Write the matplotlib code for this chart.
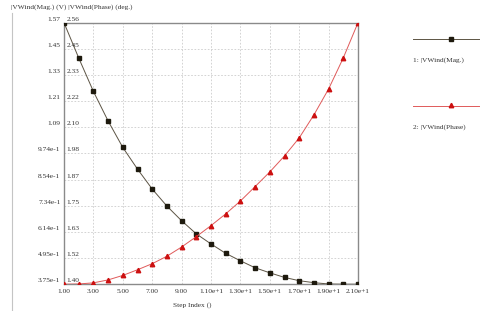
import matplotlib
matplotlib.use("Agg")
import matplotlib.pyplot as plt
from matplotlib.lines import Line2D
from matplotlib import transforms
import numpy as np

step = list(range(1, 22))
mag = [1.570, 1.409, 1.256, 1.121, 1.000, 0.901, 0.810, 0.732, 0.665, 0.605,
       0.559, 0.516, 0.482, 0.450, 0.427, 0.406, 0.391, 0.382, 0.376, 0.375, 0.375]
phase = [1.400, 1.401, 1.406, 1.419, 1.439, 1.464, 1.491, 1.524, 1.565, 1.611,
         1.660, 1.712, 1.769, 1.833, 1.898, 1.969, 2.049, 2.151, 2.266, 2.404, 2.560]

xticks = [1, 3, 5, 7, 9, 11, 13, 15, 17, 19, 21]
xticklabels = ["1.00", "3.00", "5.00", "7.00", "9.00", "1.10e+1", "1.30e+1",
               "1.50e+1", "1.70e+1", "1.90e+1", "2.10e+1"]
mag_ticklabels = ["3.75e-1", "4.95e-1", "6.14e-1", "7.34e-1", "8.54e-1", "9.74e-1",
                  "1.09", "1.21", "1.33", "1.45", "1.57"]
phase_ticklabels = ["1.40", "1.52", "1.63", "1.75", "1.87", "1.98",
                    "2.10", "2.22", "2.33", "2.45", "2.56"]
mag_lim = (0.375, 1.57)
phase_lim = (1.40, 2.56)

plt.rcParams['font.family'] = ['Liberation Serif', 'DejaVu Serif']
FS = 5.3
W, H = 495, 311
fig = plt.figure(figsize=(W / 100, H / 100), dpi=100)
fig.patch.set_facecolor('white')

L, R, T, B = 64, 358, 22.7, 284.2
ax = fig.add_axes([L / W, 1 - B / H, (R - L) / W, (B - T) / H])
ax2 = ax.twinx()

mag_col = '#5c5444'
mag_mk = '#1e1a0e'
ph_col = '#e05a5a'
ph_mk = '#cc1010'

ax.plot(step, mag, color=mag_col, lw=0.7, marker='s', ms=3.3,
        mfc=mag_mk, mec=mag_mk, zorder=3)
ax2.plot(step, phase, color=ph_col, lw=0.7, marker='^', ms=3.2,
         mfc=ph_mk, mec=ph_mk, zorder=3)

ax.set_xlim(1, 21)
ax.set_ylim(*mag_lim)
ax2.set_ylim(*phase_lim)

mag_ticks = np.linspace(mag_lim[0], mag_lim[1], 11)
phase_ticks = np.linspace(phase_lim[0], phase_lim[1], 11)
ax.set_yticks(mag_ticks)
ax.set_yticklabels([])
ax2.set_yticks(phase_ticks)
ax2.set_yticklabels([])
ax.set_xticks(xticks)
ax.set_xticklabels(xticklabels, fontsize=FS, color='#333333')
ax.tick_params(axis='x', length=0, pad=3.5)
ax.tick_params(axis='y', length=0)
ax2.tick_params(axis='y', length=0)

ax.grid(True, color='#cccccc', ls=(0, (2, 2)), lw=0.6)
ax.set_axisbelow(True)

for sp in ['left', 'right', 'top', 'bottom']:
    ax.spines[sp].set_color('#8a8a8a')
    ax.spines[sp].set_linewidth(1.0)
    ax2.spines[sp].set_visible(False)

up = transforms.ScaledTranslation(0, 3.5 / 100, fig.dpi_scale_trans)
trl = transforms.blended_transform_factory(ax.transAxes, ax.transData) + up
trl2 = transforms.blended_transform_factory(ax2.transAxes, ax2.transData) + up
for v, s in zip(mag_ticks, mag_ticklabels):
    ax.text(-0.012, v, s, transform=trl, ha='right', va='center',
            fontsize=FS, color='#333333', clip_on=False)
for v, s in zip(phase_ticks, phase_ticklabels):
    ax2.text(0.008, v, s, transform=trl2, ha='left', va='center',
             fontsize=FS, color='#333333', clip_on=False)

fig.text(11 / W, 1 - 7.5 / H, "|VWind(Mag.) (V) |VWind(Phase) (deg.)",
         ha='left', va='center', fontsize=FS, color='#333333')
fig.text(173 / W, 1 - 305 / H, "Step Index ()", ha='left', va='center',
         fontsize=FS, color='#333333')

# left frame line
fig.add_artist(Line2D([12 / W, 12 / W], [1 - 13 / H, 0], color='#c4c4c4', lw=0.8))

# legend
fig.add_artist(Line2D([413 / W, 479 / W], [1 - 39 / H, 1 - 39 / H], color=mag_col, lw=0.7))
fig.add_artist(Line2D([451 / W], [1 - 39 / H], marker='s', ms=3.3, color=mag_mk, lw=0))
fig.text(413 / W, 1 - 60 / H, "1: |VWind(Mag.)", ha='left', va='center',
         fontsize=FS, color='#333333')
fig.add_artist(Line2D([413 / W, 479 / W], [1 - 105.5 / H, 1 - 105.5 / H], color=ph_col, lw=0.7))
fig.add_artist(Line2D([451 / W], [1 - 105 / H], marker='^', ms=3.2, color=ph_mk, lw=0))
fig.text(413 / W, 1 - 127 / H, "2: |VWind(Phase)", ha='left', va='center',
         fontsize=FS, color='#333333')

fig.savefig("out.png", dpi=100, facecolor='white')
